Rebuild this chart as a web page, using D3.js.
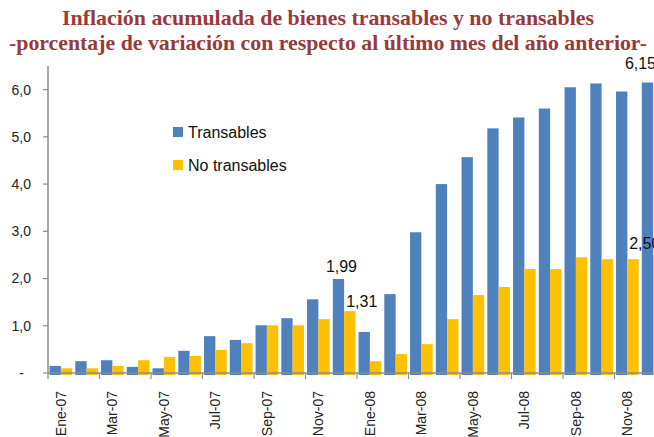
<!DOCTYPE html>
<html lang="es">
<head>
    <meta charset="UTF-8">
    <title>Inflación acumulada</title>
    <script src="https://cdn.jsdelivr.net/npm/d3@7"></script>
    <style>
        body { margin: 0; background: #fff; }
    </style>
</head>
<body>
<script>
  // datos
  var categories = ["Ene-07", "Feb-07", "Mar-07", "Abr-07", "May-07", "Jun-07", "Jul-07", "Ago-07",
    "Sep-07", "Oct-07", "Nov-07", "Dic-07", "Ene-08", "Feb-08", "Mar-08", "Abr-08", "May-08", "Jun-08",
    "Jul-08", "Ago-08", "Sep-08", "Oct-08", "Nov-08", "Dic-08"];
  var transables = [0.15, 0.25, 0.27, 0.13, 0.10, 0.47, 0.78, 0.70, 1.01, 1.16, 1.56, 1.99,
    0.87, 1.67, 2.98, 4.00, 4.57, 5.18, 5.41, 5.60, 6.05, 6.13, 5.96, 6.15];
  var noTransables = [0.10, 0.10, 0.15, 0.27, 0.34, 0.36, 0.49, 0.63, 1.01, 1.01, 1.14, 1.31,
    0.25, 0.40, 0.61, 1.14, 1.65, 1.82, 2.20, 2.20, 2.45, 2.41, 2.41, 2.50];
  var seriesNames = ["Transables", "No transables"];
  var yTicks = [0, 1, 2, 3, 4, 5, 6];
  var yTickLabels = ["-", "1,0", "2,0", "3,0", "4,0", "5,0", "6,0"];
  var labelled = ["Dic-07", "Dic-08"];

  drawChart();

  function drawChart() {
    var width = 654, height = 437;
    var colors = ["#4F81BD", "#FFC000"];
    var axisColor = "#8c8c8c";

    var svg = d3.select("body").append("svg")
      .attr("width", width)
      .attr("height", height)
      .style("font-family", "'Liberation Sans', Arial, sans-serif");

    // titulo
    var title = svg.append("g")
      .attr("fill", "#983A3A")
      .style("font-family", "'Liberation Serif', serif")
      .style("font-weight", "bold")
      .style("font-size", "21px")
      .attr("text-anchor", "middle");
    title.append("text").attr("x", 328).attr("y", 25)
      .attr("textLength", 532).attr("lengthAdjust", "spacingAndGlyphs")
      .text("Inflación acumulada de bienes transables y no transables");
    title.append("text").attr("x", 328).attr("y", 50)
      .attr("textLength", 638).attr("lengthAdjust", "spacingAndGlyphs")
      .text("-porcentaje de variación con respecto al último mes del año anterior-");

    var left = 48, top = 66, bottom = 373;
    var step = 25.75;

    var x0 = d3.scaleBand()
      .domain(categories)
      .range([left, left + step * categories.length])
      .paddingInner(0.12)
      .paddingOuter(0.06);

    var x1 = d3.scaleBand()
      .domain(seriesNames)
      .range([0, x0.bandwidth()]);

    var y = d3.scaleLinear()
      .domain([0, 6.5])
      .range([bottom, top]);

    var rows = categories.map(function (c, i) {
      return {cat: c, values: [transables[i], noTransables[i]]};
    });

    // barras
    var groups = svg.append("g").selectAll("g")
      .data(rows)
      .join("g")
      .attr("transform", function (d) { return "translate(" + x0(d.cat) + ",0)"; });

    groups.selectAll("rect")
      .data(function (d) {
        return d.values.map(function (v, k) { return {name: seriesNames[k], value: v, k: k}; });
      })
      .join("rect")
      .attr("x", function (d) { return x1(d.name); })
      .attr("width", x1.bandwidth())
      .attr("y", function (d) { return y(d.value); })
      .attr("height", function (d) { return bottom + 2 - y(d.value); })
      .attr("fill", function (d) { return colors[d.k]; });

    // eje y
    svg.append("line")
      .attr("x1", left).attr("x2", left)
      .attr("y1", top).attr("y2", bottom)
      .attr("stroke", axisColor).attr("stroke-width", 1.5);

    var yAxis = svg.append("g");
    yTicks.forEach(function (t, i) {
      yAxis.append("line")
        .attr("x1", left - 5).attr("x2", left)
        .attr("y1", y(t)).attr("y2", y(t))
        .attr("stroke", axisColor).attr("stroke-width", 1.2);
      yAxis.append("text")
        .attr("x", t === 0 ? 24 : 31)
        .attr("y", y(t))
        .attr("dy", "0.35em")
        .attr("text-anchor", "end")
        .attr("fill", "#222")
        .style("font-size", "14px")
        .text(yTickLabels[i]);
    });

    // eje x
    svg.append("line")
      .attr("x1", left).attr("x2", width)
      .attr("y1", bottom).attr("y2", bottom)
      .attr("stroke", axisColor).attr("stroke-width", 1.5);

    var xAxis = svg.append("g");
    categories.forEach(function (c, i) {
      if (i % 2 !== 0) return;
      var bx = x0(c) - x0.step() * 0.06;
      xAxis.append("line")
        .attr("x1", bx).attr("x2", bx)
        .attr("y1", bottom).attr("y2", bottom + 6)
        .attr("stroke", axisColor).attr("stroke-width", 1.2);
      var cx = x0(c) + x0.bandwidth() / 2;
      xAxis.append("text")
        .attr("transform", "translate(" + cx + "," + 391 + ") rotate(-90)")
        .attr("dy", "0.35em")
        .attr("text-anchor", "end")
        .attr("fill", "#222")
        .style("font-size", "14px")
        .text(c);
    });

    // etiquetas de datos (la de Dic-08 queda cortada en el borde, igual que el original)
    var offsets = [[[3, -7], [12, -4]], [[-7, -14], [-14, -6]]];
    labelled.forEach(function (c, j) {
      var i = categories.indexOf(c);
      [transables[i], noTransables[i]].forEach(function (v, k) {
        svg.append("text")
          .attr("x", x0(c) + x1(seriesNames[k]) + x1.bandwidth() / 2 + offsets[j][k][0])
          .attr("y", y(v) + offsets[j][k][1])
          .attr("text-anchor", "middle")
          .attr("fill", "#111")
          .style("font-size", "16px")
          .text(d3.format(".2f")(v).replace(".", ","));
      });
    });

    // leyenda
    var legend = svg.append("g");
    seriesNames.forEach(function (s, k) {
      var ly = 132 + k * 33;
      legend.append("rect")
        .attr("x", 173).attr("y", ly - 5)
        .attr("width", 10).attr("height", 10)
        .attr("fill", colors[k]);
      legend.append("text")
        .attr("x", 188).attr("y", ly)
        .attr("dy", "0.35em")
        .attr("fill", "#111")
        .style("font-size", "16px")
        .text(s);
    });
  }
</script>
</body>
</html>
